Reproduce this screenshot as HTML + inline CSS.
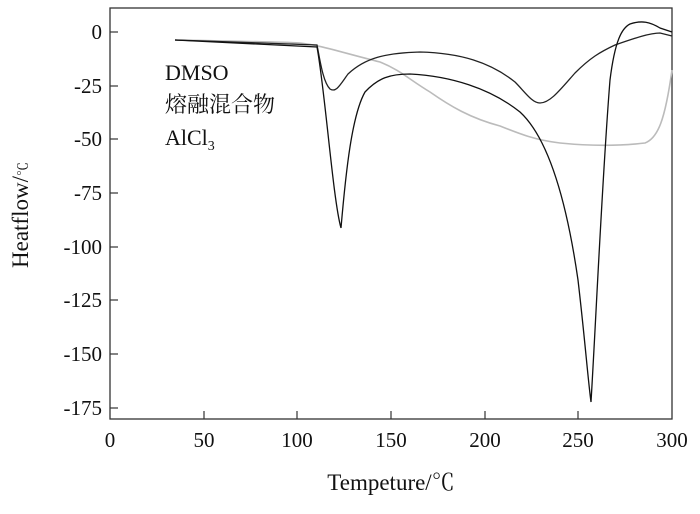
<!DOCTYPE html>
<html><head><meta charset="utf-8"><style>
body{margin:0;background:#fff;}
svg{display:block;}
text{font-family:"Liberation Serif","Noto Serif CJK SC",serif;fill:#111;}
</style></head><body>
<svg width="700" height="514" viewBox="0 0 700 514">
<rect x="110" y="8" width="562" height="411" fill="none" stroke="#333" stroke-width="1.3"/>
<g stroke="#333" stroke-width="1.2">
<line x1="110" y1="32" x2="118" y2="32"/><line x1="110" y1="86" x2="118" y2="86"/>
<line x1="110" y1="139" x2="118" y2="139"/><line x1="110" y1="193" x2="118" y2="193"/>
<line x1="110" y1="247" x2="118" y2="247"/><line x1="110" y1="300" x2="118" y2="300"/>
<line x1="110" y1="354" x2="118" y2="354"/><line x1="110" y1="408" x2="118" y2="408"/>
<line x1="204" y1="419" x2="204" y2="411"/><line x1="297" y1="419" x2="297" y2="411"/>
<line x1="391" y1="419" x2="391" y2="411"/><line x1="485" y1="419" x2="485" y2="411"/>
<line x1="578" y1="419" x2="578" y2="411"/>
</g>
<g font-size="21" text-anchor="end">
<text x="102" y="39">0</text><text x="102" y="93">-25</text><text x="102" y="146">-50</text>
<text x="102" y="200">-75</text><text x="102" y="254">-100</text><text x="102" y="307">-125</text>
<text x="102" y="361">-150</text><text x="102" y="415">-175</text>
</g>
<g font-size="21" text-anchor="middle">
<text x="110" y="447">0</text><text x="204" y="447">50</text><text x="297" y="447">100</text>
<text x="391" y="447">150</text><text x="485" y="447">200</text><text x="578" y="447">250</text>
<text x="672" y="447">300</text>
</g>
<text x="391" y="490" font-size="23" text-anchor="middle">Tempeture/℃</text>
<text transform="translate(28,215) rotate(-90)" font-size="23" text-anchor="middle">Heatflow/<tspan font-size="14">℃</tspan></text>
<text x="165" y="80" font-size="22">DMSO</text>
<text x="165" y="112" font-size="22">熔融混合物</text>
<text x="165" y="145" font-size="22">AlCl<tspan font-size="14" dy="5">3</tspan></text>
<path d="M175,40 C230,41 280,42 300,43 C320,45 340,52 380,62 C400,70 410,80 430,92 C450,106 470,118 500,126 C520,134 535,140 560,143 C590,146 620,146 645,143 C658,138 665,120 672,70" fill="none" stroke="#bbb" stroke-width="1.6"/>
<path d="M175,40 L317,45 C320,60 323,82 330,89 C336,93 340,85 348,74 C365,58 385,53 420,52 C460,53 490,62 515,82 C525,92 532,103 540,103 C550,103 560,90 575,73 C590,58 600,52 615,45 C635,38 650,33 660,33 L672,36" fill="none" stroke="#222" stroke-width="1.3"/>
<path d="M175,40 L317,47 C325,90 333,200 341,228 C346,170 352,115 365,92 C378,78 390,74 410,74 C450,76 490,88 520,112 C545,135 565,190 578,280 C585,340 588,380 591,402 C596,320 602,180 610,80 C615,40 622,28 630,24 C642,20 650,22 660,28 L672,32" fill="none" stroke="#111" stroke-width="1.3"/>
</svg>
</body></html>
